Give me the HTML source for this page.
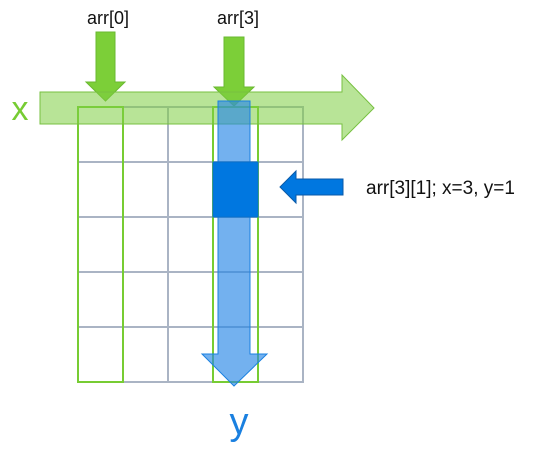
<!DOCTYPE html>
<html><head><meta charset="utf-8"><style>
html,body{margin:0;padding:0;background:#fff;width:552px;height:464px;overflow:hidden}
svg{display:block;font-family:"Liberation Sans",sans-serif}
</style></head><body>
<svg width="552" height="464" viewBox="0 0 552 464">
  <g stroke="#aab4c4" stroke-width="2" fill="none">
    <rect x="78" y="107" width="225" height="275"/>
    <line x1="123" y1="107" x2="123" y2="382"/>
    <line x1="168" y1="107" x2="168" y2="382"/>
    <line x1="213" y1="107" x2="213" y2="382"/>
    <line x1="258" y1="107" x2="258" y2="382"/>
    <line x1="78" y1="162" x2="303" y2="162"/>
    <line x1="78" y1="217" x2="303" y2="217"/>
    <line x1="78" y1="272" x2="303" y2="272"/>
    <line x1="78" y1="327" x2="303" y2="327"/>
  </g>
  <rect x="78" y="107" width="45" height="275" fill="none" stroke="#77cc33" stroke-width="2"/>
  <rect x="213" y="107" width="45" height="275" fill="none" stroke="#77cc33" stroke-width="2"/>

  <polygon points="96,32 115,32 115,82 125,82 105.5,101 86,82 96,82" fill="#7ccf38" stroke="#6ab830" stroke-width="1"/>
  <text x="108" y="24" font-size="18" fill="#111" text-anchor="middle">arr[0]</text>

  <polygon points="224,37 244,37 244,87 254,87 234,106 214,87 224,87" fill="#7ccf38" stroke="#6ab830" stroke-width="1"/>
  <text x="238" y="24" font-size="18" fill="#111" text-anchor="middle">arr[3]</text>

  <polygon points="40,92 342,92 342,75 374,108 342,140 342,124 40,124" fill="rgba(125,205,65,0.55)" stroke="#77c040" stroke-width="1"/>
  <text x="20" y="120" font-size="34" fill="#77cc33" text-anchor="middle">x</text>

  <polygon points="218,101 250,101 250,354 267,354 234,386 202,354 218,354" fill="rgba(40,135,230,0.65)" stroke="#1a80e0" stroke-width="1"/>
  <text x="239" y="434" font-size="38" fill="#1a80e0" text-anchor="middle">y</text>

  <rect x="213" y="162" width="45" height="55" fill="#0077e0" stroke="#0a6fc8" stroke-width="1"/>

  <polygon points="343,179 343,195 296,195 296,203 280,187 296,171 296,179" fill="#0077e0" stroke="#0a5aa8" stroke-width="1"/>
  <text x="366" y="194" font-size="19" fill="#111">arr[3][1]; x=3, y=1</text>
</svg>
</body></html>
